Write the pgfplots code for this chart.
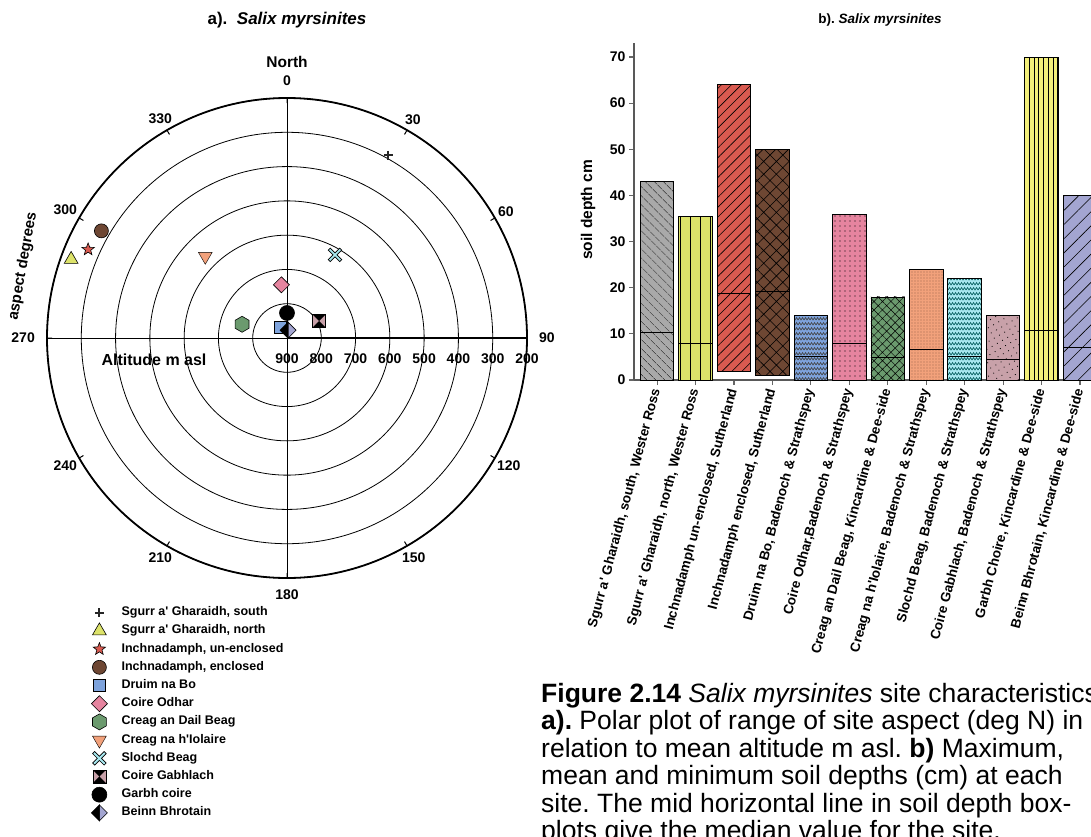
\documentclass[border=0pt]{standalone}
\usepackage{fontspec}
\setmainfont{Liberation Sans}
\usepackage{pgfplots}
\pgfplotsset{compat=1.18}
\usepgfplotslibrary{polar,statistics}
\usetikzlibrary{patterns,patterns.meta}

\definecolor{cgray}{HTML}{A9A9A9}
\definecolor{cyg}{HTML}{DDE36A}
\definecolor{cred}{HTML}{D95A50}
\definecolor{cbrown}{HTML}{6E4733}
\definecolor{cblue}{HTML}{7EA3DC}
\definecolor{cpink}{HTML}{E6849F}
\definecolor{cgreen}{HTML}{6B9A6E}
\definecolor{corange}{HTML}{F2A17B}
\definecolor{ccyan}{HTML}{A8E8F0}
\definecolor{cmauve}{HTML}{C8A1A9}
\definecolor{cyellow}{HTML}{F3EF7A}
\definecolor{clav}{HTML}{A3A5D1}

\pgfdeclarepatternformonly{zigzag}{\pgfqpoint{-1pt}{-1pt}}{\pgfqpoint{7pt}{6pt}}{\pgfqpoint{6pt}{5pt}}{%
  \pgfsetlinewidth{0.6pt}%
  \pgfpathmoveto{\pgfqpoint{0pt}{1pt}}%
  \pgfpathlineto{\pgfqpoint{1.5pt}{3.5pt}}%
  \pgfpathlineto{\pgfqpoint{3pt}{1pt}}%
  \pgfpathlineto{\pgfqpoint{4.5pt}{3.5pt}}%
  \pgfpathlineto{\pgfqpoint{6pt}{1pt}}%
  \pgfusepath{stroke}}

\pgfdeclareplotmark{hexagon*}{%
  \pgfpathmoveto{\pgfpointpolar{90}{\pgfplotmarksize}}%
  \pgfpathlineto{\pgfpointpolar{150}{\pgfplotmarksize}}%
  \pgfpathlineto{\pgfpointpolar{210}{\pgfplotmarksize}}%
  \pgfpathlineto{\pgfpointpolar{270}{\pgfplotmarksize}}%
  \pgfpathlineto{\pgfpointpolar{330}{\pgfplotmarksize}}%
  \pgfpathlineto{\pgfpointpolar{30}{\pgfplotmarksize}}%
  \pgfpathclose
  \pgfusepathqfillstroke}
\pgfdeclareplotmark{star5*}{%
  \pgfpathmoveto{\pgfpointpolar{90}{\pgfplotmarksize}}%
  \pgfpathlineto{\pgfpointpolar{126}{0.42*\pgfplotmarksize}}%
  \pgfpathlineto{\pgfpointpolar{162}{\pgfplotmarksize}}%
  \pgfpathlineto{\pgfpointpolar{198}{0.42*\pgfplotmarksize}}%
  \pgfpathlineto{\pgfpointpolar{234}{\pgfplotmarksize}}%
  \pgfpathlineto{\pgfpointpolar{270}{0.42*\pgfplotmarksize}}%
  \pgfpathlineto{\pgfpointpolar{306}{\pgfplotmarksize}}%
  \pgfpathlineto{\pgfpointpolar{342}{0.42*\pgfplotmarksize}}%
  \pgfpathlineto{\pgfpointpolar{18}{\pgfplotmarksize}}%
  \pgfpathlineto{\pgfpointpolar{54}{0.42*\pgfplotmarksize}}%
  \pgfpathclose
  \pgfusepathqfillstroke}
\pgfdeclareplotmark{sqdiamond*}{%
  \pgfpathmoveto{\pgfqpoint{0pt}{\pgfplotmarksize}}%
  \pgfpathlineto{\pgfqpoint{\pgfplotmarksize}{0pt}}%
  \pgfpathlineto{\pgfqpoint{0pt}{-\pgfplotmarksize}}%
  \pgfpathlineto{\pgfqpoint{-\pgfplotmarksize}{0pt}}%
  \pgfpathclose
  \pgfusepathqfillstroke}
\pgfdeclareplotmark{halfdiamond}{%
  \pgfpathmoveto{\pgfqpoint{0pt}{\pgfplotmarksize}}%
  \pgfpathlineto{\pgfqpoint{\pgfplotmarksize}{0pt}}%
  \pgfpathlineto{\pgfqpoint{0pt}{-\pgfplotmarksize}}%
  \pgfpathclose
  \pgfusepathqfillstroke
  \pgfsetfillcolor{black}%
  \pgfpathmoveto{\pgfqpoint{0pt}{\pgfplotmarksize}}%
  \pgfpathlineto{\pgfqpoint{-\pgfplotmarksize}{0pt}}%
  \pgfpathlineto{\pgfqpoint{0pt}{-\pgfplotmarksize}}%
  \pgfpathclose
  \pgfusepathqfillstroke}
\pgfdeclareplotmark{hourglass}{%
  \pgfpathrectangle{\pgfqpoint{-\pgfplotmarksize}{-\pgfplotmarksize}}{\pgfqpoint{2\pgfplotmarksize}{2\pgfplotmarksize}}%
  \pgfusepathqfillstroke
  \pgfsetfillcolor{black}%
  \pgfpathmoveto{\pgfqpoint{-\pgfplotmarksize}{\pgfplotmarksize}}%
  \pgfpathlineto{\pgfqpoint{\pgfplotmarksize}{\pgfplotmarksize}}%
  \pgfpathlineto{\pgfqpoint{-\pgfplotmarksize}{-\pgfplotmarksize}}%
  \pgfpathlineto{\pgfqpoint{\pgfplotmarksize}{-\pgfplotmarksize}}%
  \pgfpathclose
  \pgfusepathqfill
  \pgfpathrectangle{\pgfqpoint{-\pgfplotmarksize}{-\pgfplotmarksize}}{\pgfqpoint{2\pgfplotmarksize}{2\pgfplotmarksize}}%
  \pgfusepathqstroke}
\pgfdeclareplotmark{ox}{%
  \pgfsetlinewidth{3.6pt}\pgfsetstrokecolor{black}%
  \pgfpathmoveto{\pgfqpoint{-\pgfplotmarksize}{-\pgfplotmarksize}}%
  \pgfpathlineto{\pgfqpoint{\pgfplotmarksize}{\pgfplotmarksize}}%
  \pgfpathmoveto{\pgfqpoint{-\pgfplotmarksize}{\pgfplotmarksize}}%
  \pgfpathlineto{\pgfqpoint{\pgfplotmarksize}{-\pgfplotmarksize}}%
  \pgfusepathqstroke
  \pgfsetlinewidth{1.9pt}\pgfsetstrokecolor{ccyan}%
  \pgfpathmoveto{\pgfqpoint{-0.9\pgfplotmarksize}{-0.9\pgfplotmarksize}}%
  \pgfpathlineto{\pgfqpoint{0.9\pgfplotmarksize}{0.9\pgfplotmarksize}}%
  \pgfpathmoveto{\pgfqpoint{-0.9\pgfplotmarksize}{0.9\pgfplotmarksize}}%
  \pgfpathlineto{\pgfqpoint{0.9\pgfplotmarksize}{-0.9\pgfplotmarksize}}%
  \pgfusepathqstroke}

\pgfplotsset{
  site/.style={only marks, mark options={draw=black, line width=0.6pt},
    legend image code/.code={%
      \begin{pgfinterruptboundingbox}\draw[##1] plot coordinates {(0pt,0pt)};\end{pgfinterruptboundingbox}%
      \path (-8pt,-6pt) (21pt,6pt);}},
  bar/.style n args={5}{boxplot/draw direction=y,
    boxplot prepared={draw position=#1, lower whisker=#2, lower quartile=#2,
      median=#3, upper quartile=#4, upper whisker=#4, box extend=0.875},
    boxplot/draw/lower whisker/.code={}, boxplot/draw/upper whisker/.code={},
    boxplot/every median/.style={draw=black, line width=0.8pt},
    boxplot/every box/.style={draw=black, line width=0.8pt, #5}},
}
\newcommand{\q}{\textquotesingle}
\frenchspacing

\begin{document}
\begin{tikzpicture}[x=1pt,y=1pt]
\coordinate (legpos) at (-199,-266);

\begin{polaraxis}[
  at={(287pt,498pt)}, anchor=center,
  scale only axis, width=480pt, height=480pt,
  xmin=0, xmax=360, ymin=0, ymax=700,
  clip=false,
  xtick={0,30,...,330},
  xticklabels={,60,30,,330,300,,240,210,,150,120},
  ytick={0,100,...,700},
  yticklabels={900,800,700,600,500,400,300,200},
  ymajorgrids=true, xmajorgrids=false,
  major grid style={black, line width=0.8pt},
  extra x ticks={0,90,180,270}, extra x tick labels={90,0,270,180},
  extra x tick style={xmajorgrids=true, xticklabel style={inner sep=17pt}},
  axis line style={black, line width=1.8pt},
  xtick style={black, line width=1pt}, xtick align=outside, major tick length=5pt,
  ytick style={draw=none},
  tick label style={font=\bfseries\fontsize{14}{16}\selectfont},
  xticklabel style={inner sep=6pt},
  yticklabel style={anchor=north, yshift=-15pt, inner sep=1pt},
  legend cell align=left,
  legend style={at={(legpos)}, anchor=north west, draw=none, fill=none,
    row sep=5.2pt, font=\bfseries\fontsize{12.5}{14}\selectfont,
    nodes={inner sep=1pt, text height=8.5pt, text depth=2.5pt}},
]
\addplot[site, mark=+, mark size=4.5pt, mark options={draw=black!85, line width=2pt}]
  table[x expr={90-\thisrow{aspect}}, y expr={900-\thisrow{alt}}] {
aspect alt
29 290
};
\addlegendentry{Sgurr a\q{} Gharaidh, south}
\addplot[site, mark=triangle*, mark size=8pt, fill=cyg]
  table[x expr={90-\thisrow{aspect}}, y expr={900-\thisrow{alt}}] {
aspect alt
290 230
};
\addlegendentry{Sgurr a\q{} Gharaidh, north}
\addplot[site, mark=star5*, mark size=6.5pt, fill=cred]
  table[x expr={90-\thisrow{aspect}}, y expr={900-\thisrow{alt}}] {
aspect alt
294 265
};
\addlegendentry{Inchnadamph, un-enclosed}
\addplot[site, mark=*, mark size=7pt, fill=cbrown]
  table[x expr={90-\thisrow{aspect}}, y expr={900-\thisrow{alt}}] {
aspect alt
300 275
};
\addlegendentry{Inchnadamph, enclosed}
\addplot[site, mark=square*, mark size=6pt, fill=cblue]
  table[x expr={90-\thisrow{aspect}}, y expr={900-\thisrow{alt}}] {
aspect alt
330 863
};
\addlegendentry{Druim na Bo}
\addplot[site, mark=sqdiamond*, mark size=8pt, fill=cpink]
  table[x expr={90-\thisrow{aspect}}, y expr={900-\thisrow{alt}}] {
aspect alt
354 744
};
\addlegendentry{Coire Odhar}
\addplot[site, mark=hexagon*, mark size=8pt, fill=cgreen]
  table[x expr={90-\thisrow{aspect}}, y expr={900-\thisrow{alt}}] {
aspect alt
287 763
};
\addlegendentry{Creag an Dail Beag}
\addplot[site, mark=triangle*, mark size=8pt, fill=corange, mark options={rotate=180}]
  table[x expr={90-\thisrow{aspect}}, y expr={900-\thisrow{alt}}] {
aspect alt
315 563
};
\addlegendentry{Creag na h\q{}Iolaire}
\addplot[site, mark=ox, mark size=6pt]
  table[x expr={90-\thisrow{aspect}}, y expr={900-\thisrow{alt}}] {
aspect alt
30 620
};
\addlegendentry{Slochd Beag}
\addplot[site, mark=hourglass, mark size=6.5pt, fill=cmauve]
  table[x expr={90-\thisrow{aspect}}, y expr={900-\thisrow{alt}}] {
aspect alt
62 794
};
\addlegendentry{Coire Gabhlach}
\addplot[site, mark=*, mark size=7.5pt, fill=black]
  table[x expr={90-\thisrow{aspect}}, y expr={900-\thisrow{alt}}] {
aspect alt
0 827
};
\addlegendentry{Garbh coire}
\addplot[site, mark=halfdiamond, mark size=8pt, fill=clav]
  table[x expr={90-\thisrow{aspect}}, y expr={900-\thisrow{alt}}] {
aspect alt
8 877
};
\addlegendentry{Beinn Bhrotain}
\end{polaraxis}

\begin{axis}[
  at={(634pt,456pt)}, anchor=south west,
  scale only axis, width=469pt, height=336.8pt,
  xmin=0.4, xmax=12.6, ymin=0, ymax=73,
  axis x line*=bottom, axis y line*=left,
  axis line style={draw=black!65, line width=1.1pt},
  xtick={1,...,12}, ytick={0,10,...,70},
  tick align=outside, major tick length=5pt,
  tick style={draw=black!60, line width=1.1pt},
  xticklabels={{Sgurr a\q{} Gharaidh, south, Wester Ross},{Sgurr a\q{} Gharaidh, north, Wester Ross},{Inchnadamph un-enclosed, Sutherland},{Inchnadamph enclosed, Sutherland},{Druim na Bo, Badenoch \& Strathspey},{Coire Odhar,Badenoch \& Strathspey},{Creag an Dail Beag, Kincardine \& Dee-side},{Creag na h\q{}Iolaire, Badenoch \& Strathspey},{Slochd Beag, Badenoch \& Strathspey},{Coire Gabhlach, Badenoch \& Strathspey},{Garbh Choire, Kincardine \& Dee-side},{Beinn Bhrotain, Kincardine \& Dee-side}},
  xticklabel style={rotate=75, anchor=east, font=\bfseries\fontsize{13.5}{15}\selectfont, inner sep=1pt},
  xticklabel shift=3pt,
  yticklabel style={font=\bfseries\fontsize{14}{16}\selectfont},
  /pgf/number format/assume math mode=true,
  clip=false,
]
\addplot[bar={1}{0}{10.3}{43}{fill=cgray, postaction={pattern={Lines[angle=-45,distance=6.5pt,line width=0.6pt]}, pattern color=black}}] coordinates {};
\addplot[bar={2}{0}{8.0}{35.5}{fill=cyg, postaction={pattern={Lines[angle=90,distance=10pt,line width=0.8pt]}, pattern color=black}}] coordinates {};
\addplot[bar={3}{1.9}{18.8}{64}{fill=cred, postaction={pattern={Lines[angle=45,distance=7pt,line width=0.6pt]}, pattern color=black}}] coordinates {};
\addplot[bar={4}{0.95}{19.1}{50}{fill=cbrown, postaction={pattern={Hatch[angle=45,distance=9pt,line width=0.6pt]}, pattern color=black}}] coordinates {};
\addplot[bar={5}{0}{5.2}{14}{fill=cblue, postaction={pattern=zigzag, pattern color=black!75}}] coordinates {};
\addplot[bar={6}{0}{8.0}{36}{fill=cpink, postaction={pattern={Dots[distance=5pt,radius=0.6pt]}, pattern color=black}}] coordinates {};
\addplot[bar={7}{0}{5.0}{18}{fill=cgreen, postaction={pattern={Hatch[angle=45,distance=6pt,line width=0.5pt]}, pattern color=black}}] coordinates {};
\addplot[bar={8}{0}{6.6}{24}{fill=corange, postaction={pattern={Dots[distance=3pt,radius=0.45pt]}, pattern color=black}}] coordinates {};
\addplot[bar={9}{0}{5.2}{22}{fill=ccyan, postaction={pattern=zigzag, pattern color=teal!70!black}}] coordinates {};
\addplot[bar={10}{0}{4.4}{14}{fill=cmauve, postaction={pattern={Dots[angle=30,distance=6pt,radius=0.6pt]}, pattern color=black}}] coordinates {};
\addplot[bar={11}{0}{10.7}{70}{fill=cyellow, postaction={pattern={Lines[angle=90,distance=4.7pt,line width=0.6pt]}, pattern color=black}}] coordinates {};
\addplot[bar={12}{0}{7.1}{40}{fill=clav, postaction={pattern={Lines[angle=45,distance=10pt,line width=0.6pt]}, pattern color=black}}] coordinates {};
\end{axis}

% titles and labels
\node[font=\bfseries\fontsize{17}{19}\selectfont] at (287,816) {a).\ \ \textit{Salix myrsinites}};
\node[font=\bfseries\fontsize{13.5}{15}\selectfont] at (880,816) {b). \textit{Salix myrsinites}};
\node[font=\bfseries\fontsize{15.5}{17}\selectfont] at (287,774) {North};
\node[font=\bfseries\fontsize{15}{17}\selectfont, rotate=80] at (23,570) {aspect degrees};
\node[font=\bfseries\fontsize{16}{18}\selectfont] at (154,476) {Altitude m asl};
\node[font=\bfseries\fontsize{15.5}{17}\selectfont, rotate=90] at (588,626) {soil depth cm};

% caption
\begin{scope}[every node/.style={anchor=base west, inner sep=0pt, font=\fontsize{26.5}{30}\selectfont}]
\node at (541,134) {\textbf{Figure 2.14} \textit{Salix myrsinites} site characteristics};
\node at (541,106.5) {\textbf{a).} Polar plot of range of site aspect (deg N) in};
\node at (541,79) {relation to mean altitude m asl. \textbf{b)} Maximum,};
\node at (541,51.5) {mean and minimum soil depths (cm) at each};
\node at (541,24) {site. The mid horizontal line in soil depth box-};
\node at (541,-3.5) {plots give the median value for the site.};
\end{scope}

\pgfresetboundingbox
\path[use as bounding box] (0,0) rectangle (1091,836);
\end{tikzpicture}
\end{document}
